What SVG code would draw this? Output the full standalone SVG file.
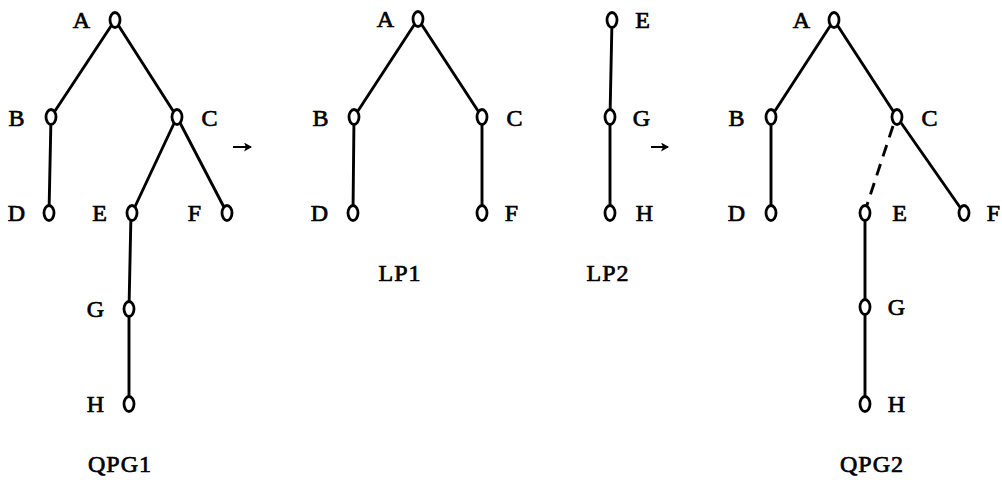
<svg xmlns="http://www.w3.org/2000/svg" width="1002" height="482" viewBox="0 0 1002 482">
<style>
.n{fill:#fff;stroke:#000;stroke-width:2.8}
.e{stroke:#000;stroke-width:2.9;stroke-linecap:round;fill:none}
.d{stroke-dasharray:12 8;stroke-linecap:butt}
.t{font-family:"Liberation Serif","Times New Roman",serif;font-size:24px;fill:#000;stroke:#000;stroke-width:0.7;letter-spacing:1px;text-anchor:middle}
.a{stroke:#000;stroke-width:2;fill:none}
</style>
<defs>
<marker id="ah" markerWidth="10" markerHeight="10" refX="7" refY="4.5" orient="auto" markerUnits="userSpaceOnUse">
<path d="M0,0 L8,4.5 L0,9 L2,4.5 Z" fill="#000"/>
</marker>
</defs>
<rect width="1002" height="482" fill="#fff"/>
<g id="connectors">
<line class="e" x1="115" y1="20" x2="51" y2="117"/>
<line class="e" x1="115" y1="20" x2="177" y2="117"/>
<line class="e" x1="51" y1="117" x2="49" y2="213"/>
<line class="e" x1="177" y1="117" x2="132" y2="213"/>
<line class="e" x1="177" y1="117" x2="227" y2="213"/>
<line class="e" x1="131" y1="213" x2="129" y2="309"/>
<line class="e" x1="129" y1="309" x2="129" y2="404"/>
<line class="e" x1="418" y1="19" x2="354" y2="117"/>
<line class="e" x1="418" y1="19" x2="482" y2="117"/>
<line class="e" x1="354" y1="117" x2="353" y2="213"/>
<line class="e" x1="482" y1="117" x2="482" y2="213"/>
<line class="e" x1="612" y1="20" x2="610" y2="117"/>
<line class="e" x1="610" y1="117" x2="610" y2="213"/>
<line class="e" x1="834" y1="20" x2="771" y2="117"/>
<line class="e" x1="834" y1="20" x2="897" y2="117"/>
<line class="e" x1="771" y1="117" x2="771" y2="213"/>
<line class="e d" x1="893" y1="126" x2="866" y2="208"/>
<line class="e" x1="897" y1="117" x2="964" y2="213"/>
<line class="e" x1="865" y1="213" x2="865" y2="307"/>
<line class="e" x1="865" y1="307" x2="865" y2="404"/>
<line class="a" x1="233" y1="147" x2="251" y2="147" marker-end="url(#ah)"/>
<line class="a" x1="651" y1="147" x2="668" y2="147" marker-end="url(#ah)"/>
</g>
<g id="qpg1">
<g id="q1A"><ellipse class="n" cx="115" cy="20" rx="5" ry="7.5"/><text class="t" x="82" y="28">A</text></g>
<g id="q1B"><ellipse class="n" cx="51" cy="117" rx="5" ry="7.5"/><text class="t" x="17" y="126">B</text></g>
<g id="q1C"><ellipse class="n" cx="177" cy="117" rx="5" ry="7.5"/><text class="t" x="210" y="126">C</text></g>
<g id="q1D"><ellipse class="n" cx="49" cy="213" rx="5" ry="7.5"/><text class="t" x="17" y="221">D</text></g>
<g id="q1E"><ellipse class="n" cx="132" cy="213" rx="5" ry="7.5"/><text class="t" x="100" y="221">E</text></g>
<g id="q1F"><ellipse class="n" cx="227" cy="213" rx="5" ry="7.5"/><text class="t" x="195" y="221">F</text></g>
<g id="q1G"><ellipse class="n" cx="129" cy="309" rx="5" ry="7.5"/><text class="t" x="96" y="317">G</text></g>
<g id="q1H"><ellipse class="n" cx="129" cy="404" rx="5" ry="7.5"/><text class="t" x="96" y="412">H</text></g>
<text class="t" x="120" y="472">QPG1</text>
</g>
<g id="lp1">
<g id="l1A"><ellipse class="n" cx="418" cy="19" rx="5" ry="7.5"/><text class="t" x="386" y="27">A</text></g>
<g id="l1B"><ellipse class="n" cx="354" cy="117" rx="5" ry="7.5"/><text class="t" x="321" y="126">B</text></g>
<g id="l1C"><ellipse class="n" cx="482" cy="117" rx="5" ry="7.5"/><text class="t" x="515" y="126">C</text></g>
<g id="l1D"><ellipse class="n" cx="353" cy="213" rx="5" ry="7.5"/><text class="t" x="320" y="221">D</text></g>
<g id="l1F"><ellipse class="n" cx="482" cy="213" rx="5" ry="7.5"/><text class="t" x="512" y="221">F</text></g>
<text class="t" x="400" y="281">LP1</text>
</g>
<g id="lp2">
<g id="l2E"><ellipse class="n" cx="612" cy="20" rx="5" ry="7.5"/><text class="t" x="643" y="28">E</text></g>
<g id="l2G"><ellipse class="n" cx="610" cy="117" rx="5" ry="7.5"/><text class="t" x="642" y="126">G</text></g>
<g id="l2H"><ellipse class="n" cx="610" cy="213" rx="5" ry="7.5"/><text class="t" x="645" y="221">H</text></g>
<text class="t" x="608" y="281">LP2</text>
</g>
<g id="qpg2">
<g id="q2A"><ellipse class="n" cx="834" cy="20" rx="5" ry="7.5"/><text class="t" x="802" y="28">A</text></g>
<g id="q2B"><ellipse class="n" cx="771" cy="117" rx="5" ry="7.5"/><text class="t" x="737" y="126">B</text></g>
<g id="q2C"><ellipse class="n" cx="897" cy="117" rx="5" ry="7.5"/><text class="t" x="930" y="126">C</text></g>
<g id="q2D"><ellipse class="n" cx="771" cy="213" rx="5" ry="7.5"/><text class="t" x="737" y="221">D</text></g>
<g id="q2E"><ellipse class="n" cx="865" cy="213" rx="5" ry="7.5"/><text class="t" x="900" y="221">E</text></g>
<g id="q2F"><ellipse class="n" cx="964" cy="213" rx="5" ry="7.5"/><text class="t" x="994" y="221">F</text></g>
<g id="q2G"><ellipse class="n" cx="865" cy="307" rx="5" ry="7.5"/><text class="t" x="897" y="315">G</text></g>
<g id="q2H"><ellipse class="n" cx="865" cy="404" rx="5" ry="7.5"/><text class="t" x="897" y="412">H</text></g>
<text class="t" x="872" y="472">QPG2</text>
</g>
</svg>
